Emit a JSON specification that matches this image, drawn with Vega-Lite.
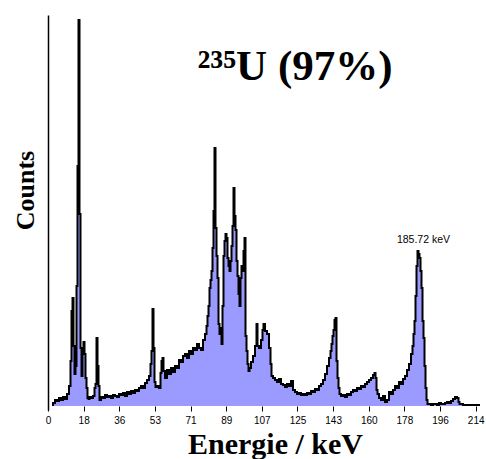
{
  "$schema": "https://vega.github.io/schema/vega-lite/v6.json",
  "width": 434,
  "height": 395,
  "autosize": "none",
  "padding": {"left": 48, "top": 15, "right": 4, "bottom": 49},
  "background": "white",
  "config": {"view": {"stroke": null}},
  "title": {
    "text": "²³⁵U (97%)",
    "font": "Liberation Serif",
    "fontSize": 43,
    "fontWeight": "bold",
    "color": "black",
    "anchor": "middle",
    "frame": "group",
    "baseline": "alphabetic",
    "offset": 0,
    "dy": 108,
    "dx": 30
  },
  "datasets": {
    "spectrum": [
      {"E": 2, "v": 1}, {"E": 3, "v": 3}, {"E": 4, "v": 6}, {"E": 5, "v": 5}, {"E": 6, "v": 8},
      {"E": 7, "v": 6}, {"E": 8, "v": 9}, {"E": 9, "v": 7}, {"E": 10, "v": 12}, {"E": 11, "v": 20},
      {"E": 11.5, "v": 45}, {"E": 12, "v": 95}, {"E": 12.5, "v": 108}, {"E": 13, "v": 60}, {"E": 13.5, "v": 32},
      {"E": 14, "v": 40}, {"E": 14.5, "v": 120}, {"E": 15, "v": 240}, {"E": 15.5, "v": 386}, {"E": 16, "v": 192},
      {"E": 16.5, "v": 58}, {"E": 17, "v": 30}, {"E": 17.5, "v": 58}, {"E": 18, "v": 64}, {"E": 18.5, "v": 52},
      {"E": 19, "v": 28}, {"E": 19.5, "v": 18}, {"E": 20, "v": 8}, {"E": 20.5, "v": 7}, {"E": 21, "v": 9},
      {"E": 22, "v": 8}, {"E": 23, "v": 10}, {"E": 23.5, "v": 18}, {"E": 24, "v": 22}, {"E": 24.5, "v": 68},
      {"E": 25, "v": 40}, {"E": 25.5, "v": 20}, {"E": 26, "v": 6}, {"E": 27, "v": 9}, {"E": 28, "v": 8},
      {"E": 29, "v": 11}, {"E": 30, "v": 9}, {"E": 31, "v": 10}, {"E": 32, "v": 8}, {"E": 33, "v": 11},
      {"E": 34, "v": 10}, {"E": 35, "v": 9}, {"E": 36, "v": 12}, {"E": 37, "v": 11}, {"E": 38, "v": 13},
      {"E": 39, "v": 10}, {"E": 40, "v": 14}, {"E": 41, "v": 12}, {"E": 42, "v": 15}, {"E": 43, "v": 13},
      {"E": 44, "v": 16}, {"E": 45, "v": 15}, {"E": 46, "v": 18}, {"E": 47, "v": 20}, {"E": 48, "v": 18},
      {"E": 49, "v": 23}, {"E": 50, "v": 26}, {"E": 51, "v": 30}, {"E": 51.5, "v": 42}, {"E": 52, "v": 55},
      {"E": 52.5, "v": 97}, {"E": 53, "v": 58}, {"E": 53.5, "v": 24}, {"E": 54, "v": 19}, {"E": 55, "v": 20},
      {"E": 56, "v": 18}, {"E": 56.5, "v": 33}, {"E": 57, "v": 45}, {"E": 57.5, "v": 48}, {"E": 58, "v": 35},
      {"E": 59, "v": 28}, {"E": 60, "v": 36}, {"E": 61, "v": 32}, {"E": 62, "v": 38}, {"E": 63, "v": 34},
      {"E": 64, "v": 40}, {"E": 65, "v": 38}, {"E": 66, "v": 46}, {"E": 67, "v": 44}, {"E": 68, "v": 50},
      {"E": 69, "v": 52}, {"E": 70, "v": 48}, {"E": 71, "v": 55}, {"E": 72, "v": 52}, {"E": 73, "v": 58},
      {"E": 74, "v": 56}, {"E": 75, "v": 62}, {"E": 76, "v": 58}, {"E": 77, "v": 56}, {"E": 78, "v": 66},
      {"E": 79, "v": 72}, {"E": 79.5, "v": 80}, {"E": 80, "v": 90}, {"E": 80.5, "v": 100}, {"E": 81, "v": 118},
      {"E": 81.5, "v": 126}, {"E": 82, "v": 135}, {"E": 82.5, "v": 158}, {"E": 83, "v": 195}, {"E": 83.5, "v": 258},
      {"E": 84, "v": 178}, {"E": 84.5, "v": 150}, {"E": 85, "v": 128}, {"E": 85.5, "v": 82}, {"E": 86, "v": 72},
      {"E": 86.5, "v": 78}, {"E": 87, "v": 62}, {"E": 87.5, "v": 100}, {"E": 88, "v": 150}, {"E": 88.5, "v": 165},
      {"E": 89, "v": 172}, {"E": 89.5, "v": 168}, {"E": 90, "v": 148}, {"E": 90.5, "v": 140}, {"E": 91, "v": 135},
      {"E": 91.5, "v": 145}, {"E": 92, "v": 160}, {"E": 92.5, "v": 180}, {"E": 93, "v": 218}, {"E": 93.5, "v": 190},
      {"E": 94, "v": 176}, {"E": 94.5, "v": 145}, {"E": 95, "v": 130}, {"E": 95.5, "v": 112}, {"E": 96, "v": 100},
      {"E": 96.5, "v": 128}, {"E": 97, "v": 140}, {"E": 97.5, "v": 135}, {"E": 98, "v": 155}, {"E": 98.5, "v": 168},
      {"E": 99, "v": 70}, {"E": 99.5, "v": 55}, {"E": 100, "v": 42}, {"E": 100.5, "v": 35}, {"E": 101, "v": 38},
      {"E": 102, "v": 44}, {"E": 103, "v": 50}, {"E": 104, "v": 60}, {"E": 104.5, "v": 82}, {"E": 105, "v": 60},
      {"E": 106, "v": 58}, {"E": 107, "v": 66}, {"E": 107.5, "v": 76}, {"E": 108, "v": 82}, {"E": 109, "v": 75},
      {"E": 110, "v": 72}, {"E": 111, "v": 58}, {"E": 111.5, "v": 42}, {"E": 112, "v": 30}, {"E": 113, "v": 28},
      {"E": 114, "v": 26}, {"E": 115, "v": 24}, {"E": 116, "v": 27}, {"E": 117, "v": 22}, {"E": 118, "v": 21},
      {"E": 119, "v": 19}, {"E": 120, "v": 22}, {"E": 121, "v": 20}, {"E": 122, "v": 25}, {"E": 123, "v": 16},
      {"E": 124, "v": 14}, {"E": 125, "v": 12}, {"E": 126, "v": 13}, {"E": 127, "v": 11}, {"E": 128, "v": 12},
      {"E": 129, "v": 11}, {"E": 130, "v": 13}, {"E": 131, "v": 12}, {"E": 132, "v": 15}, {"E": 133, "v": 14},
      {"E": 134, "v": 17}, {"E": 135, "v": 16}, {"E": 136, "v": 20}, {"E": 137, "v": 22}, {"E": 138, "v": 26},
      {"E": 139, "v": 32}, {"E": 140, "v": 40}, {"E": 141, "v": 48}, {"E": 141.5, "v": 55}, {"E": 142, "v": 62},
      {"E": 142.5, "v": 70}, {"E": 143, "v": 76}, {"E": 143.5, "v": 86}, {"E": 144, "v": 88}, {"E": 144.5, "v": 45},
      {"E": 145, "v": 28}, {"E": 145.5, "v": 18}, {"E": 146, "v": 12}, {"E": 147, "v": 10}, {"E": 148, "v": 11},
      {"E": 149, "v": 9}, {"E": 150, "v": 12}, {"E": 151, "v": 11}, {"E": 152, "v": 14}, {"E": 153, "v": 16},
      {"E": 154, "v": 15}, {"E": 155, "v": 18}, {"E": 156, "v": 17}, {"E": 157, "v": 20}, {"E": 158, "v": 19},
      {"E": 159, "v": 22}, {"E": 160, "v": 24}, {"E": 161, "v": 26}, {"E": 162, "v": 28}, {"E": 163, "v": 31},
      {"E": 163.5, "v": 33}, {"E": 164, "v": 28}, {"E": 164.5, "v": 16}, {"E": 165, "v": 12}, {"E": 166, "v": 8},
      {"E": 167, "v": 6}, {"E": 168, "v": 10}, {"E": 169, "v": 4}, {"E": 170, "v": 6}, {"E": 171, "v": 14},
      {"E": 172, "v": 12}, {"E": 173, "v": 16}, {"E": 174, "v": 20}, {"E": 175, "v": 18}, {"E": 176, "v": 24},
      {"E": 177, "v": 22}, {"E": 178, "v": 27}, {"E": 179, "v": 30}, {"E": 180, "v": 36}, {"E": 181, "v": 42},
      {"E": 182, "v": 52}, {"E": 182.5, "v": 60}, {"E": 183, "v": 72}, {"E": 183.5, "v": 85}, {"E": 184, "v": 110},
      {"E": 184.5, "v": 140}, {"E": 185, "v": 155}, {"E": 185.5, "v": 152}, {"E": 186, "v": 148}, {"E": 186.5, "v": 135},
      {"E": 187, "v": 118}, {"E": 187.5, "v": 85}, {"E": 188, "v": 68}, {"E": 188.5, "v": 40}, {"E": 189, "v": 18},
      {"E": 189.5, "v": 6}, {"E": 190, "v": 2}, {"E": 191, "v": 2}, {"E": 192, "v": 1}, {"E": 193, "v": 2},
      {"E": 194, "v": 2}, {"E": 195, "v": 1}, {"E": 196, "v": 3}, {"E": 197, "v": 2}, {"E": 198, "v": 2},
      {"E": 199, "v": 3}, {"E": 200, "v": 4}, {"E": 201, "v": 3}, {"E": 202, "v": 5}, {"E": 203, "v": 7},
      {"E": 204, "v": 9}, {"E": 205, "v": 8}, {"E": 205.5, "v": 4}, {"E": 206, "v": 2}, {"E": 207, "v": 2},
      {"E": 208, "v": 1}, {"E": 209, "v": 1}, {"E": 210, "v": 1}, {"E": 211, "v": 1}, {"E": 212, "v": 1},
      {"E": 213, "v": 1}, {"E": 214, "v": 1}, {"E": 215, "v": 1}, {"E": 216, "v": 1}
    ],
    "labels": [
      {"E": 185.72, "v": 152, "label": "185.72 keV"}
    ]
  },
  "data": {"name": "spectrum"},
  "encoding": {
    "x": {
      "field": "E",
      "type": "quantitative",
      "scale": {"domain": [0, 217], "nice": false, "zero": false},
      "axis": {
        "values": [0, 17.82, 35.64, 53.46, 71.28, 89.1, 106.92, 124.74, 142.56, 160.38, 178.2, 196.02, 213.84],
        "format": ".0f",
        "domain": false,
        "grid": false,
        "ticks": true,
        "tickSize": 5,
        "tickColor": "black",
        "offset": -4,
        "labelFlush": false,
        "labelOverlap": false,
        "labelSeparation": 0,
        "labelFont": "Liberation Sans",
        "labelFontSize": 10,
        "labelColor": "black",
        "labelPadding": 4,
        "title": "Energie / keV",
        "titleFont": "Liberation Serif",
        "titleFontSize": 30,
        "titleFontWeight": "bold",
        "titleColor": "black",
        "titleX": 227,
        "titleY": 47,
        "titleBaseline": "alphabetic"
      }
    },
    "y": {
      "field": "v",
      "type": "quantitative",
      "stack": null,
      "scale": {"domain": [-4, 391], "nice": false, "zero": false},
      "axis": {
        "domain": true,
        "domainColor": "black",
        "domainWidth": 1.5,
        "ticks": false,
        "labels": false,
        "grid": false,
        "title": "Counts",
        "titleFont": "Liberation Serif",
        "titleFontSize": 26,
        "titleFontWeight": "bold",
        "titleColor": "black",
        "titleX": -15,
        "titleY": 175,
        "titleBaseline": "alphabetic"
      }
    }
  },
  "layer": [
    {
      "mark": {"type": "area", "interpolate": "step", "color": "#9b9bff"},
      "encoding": {"y2": {"datum": 0}}
    },
    {
      "mark": {"type": "line", "interpolate": "step", "color": "black", "strokeWidth": 2},
      "encoding": {}
    },
    {
      "data": {"name": "labels"},
      "mark": {"type": "text", "font": "Liberation Sans", "fontSize": 10.5, "color": "black", "dx": 4, "dy": -11, "baseline": "alphabetic"},
      "encoding": {"text": {"field": "label"}}
    }
  ]
}
